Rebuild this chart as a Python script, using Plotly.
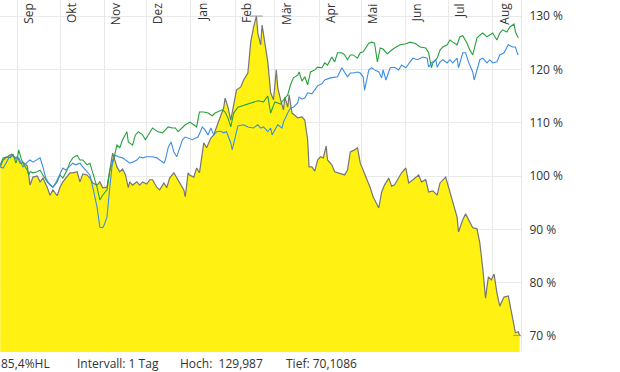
import pandas as pd
import plotly.graph_objects as go

start_date = "2018-08-20"

# ---- data (values in %, days since start_date) ----
yellow_days = [0, 2, 6, 8, 11, 12, 14, 16, 18, 19, 21, 23, 26, 28, 30, 33, 35, 37, 40, 42, 44, 47, 49, 51, 54, 56, 58, 61, 63, 65, 68, 70, 72, 75, 77, 79, 82, 84, 86, 88, 90, 91, 93, 96, 98, 100, 103, 105, 107, 110, 112, 115, 117, 119, 122, 124, 126, 129, 130, 132, 133, 136, 138, 140, 143, 145, 148, 150, 152, 155, 157, 158, 160, 162, 164, 166, 169, 171, 174, 176, 178, 180, 181, 183, 184, 186, 188, 190, 192, 194, 195, 197, 199, 200, 202, 203, 205, 207, 209, 212, 214, 216, 217, 219, 221, 223, 225, 227, 229, 230, 233, 235, 237, 240, 242, 244, 246, 249, 251, 253, 255, 258, 260, 262, 264, 266, 268, 270, 273, 275, 277, 280, 282, 285, 287, 290, 294, 296, 299, 301, 304, 307, 309, 313, 315, 318, 321, 322, 325, 327, 329, 332, 335, 337, 339, 341, 343, 345, 347, 349, 351, 354, 357, 359, 360, 362, 364, 365]
yellow_vals = [101.7, 103.0, 103.8, 104.1, 103.4, 103.6, 102.4, 102.6, 102.1, 101.9, 98.3, 99.8, 100.0, 98.9, 99.6, 97.9, 96.4, 97.4, 96.3, 97.9, 98.9, 99.8, 100.6, 100.6, 100.8, 98.9, 100.4, 100.2, 99.6, 98.7, 98.3, 98.9, 97.8, 97.9, 101.1, 104.3, 101.7, 100.8, 101.3, 100.2, 97.8, 98.9, 98.3, 98.9, 98.3, 98.9, 98.5, 99.3, 99.3, 97.9, 97.4, 98.7, 97.8, 99.6, 100.6, 99.6, 98.7, 97.4, 96.1, 100.6, 100.2, 99.8, 101.5, 100.6, 106.2, 105.3, 107.1, 107.7, 109.2, 111.4, 112.8, 114.6, 112.9, 110.5, 113.7, 116.1, 116.7, 118.0, 119.3, 125.1, 127.9, 129.987, 126.8, 124.6, 128.3, 124.9, 121.4, 115.6, 114.3, 119.9, 116.5, 114.3, 112.4, 114.8, 112.9, 115.2, 111.8, 111.4, 110.9, 111.1, 110.5, 106.8, 101.7, 101.7, 100.9, 103.0, 103.6, 103.4, 105.6, 103.0, 102.1, 100.8, 100.6, 100.4, 100.2, 101.1, 104.5, 104.9, 105.3, 102.4, 101.1, 99.3, 97.8, 96.1, 94.9, 94.0, 97.0, 98.3, 99.6, 98.1, 98.3, 99.8, 100.6, 101.5, 98.7, 99.3, 100.2, 98.9, 99.3, 97.0, 97.2, 96.4, 98.7, 99.8, 97.9, 95.5, 92.3, 89.5, 91.8, 92.9, 91.9, 90.3, 90.1, 87.4, 82.8, 77.1, 81.1, 80.5, 81.6, 78.1, 75.6, 77.3, 77.5, 74.5, 73.0, 70.6, 70.8, 70.1086]

green_days = [0, 2, 5, 7, 9, 11, 12, 13, 15, 16, 19, 20, 21, 23, 26, 28, 30, 33, 35, 37, 40, 42, 44, 47, 49, 51, 54, 56, 58, 61, 63, 65, 68, 70, 72, 75, 77, 79, 82, 84, 86, 89, 90, 93, 95, 97, 100, 102, 104, 107, 109, 111, 114, 116, 118, 121, 123, 125, 128, 130, 132, 133, 136, 138, 140, 143, 146, 149, 151, 153, 156, 158, 160, 162, 164, 167, 172, 177, 181, 185, 188, 190, 193, 197, 199, 202, 204, 206, 209, 210, 212, 214, 216, 218, 221, 223, 226, 228, 230, 233, 235, 237, 240, 242, 244, 246, 248, 251, 253, 255, 259, 261, 263, 265, 267, 269, 272, 274, 277, 281, 285, 288, 292, 295, 299, 301, 303, 304, 307, 309, 311, 314, 316, 318, 321, 323, 325, 328, 330, 332, 335, 337, 339, 342, 346, 349, 351, 353, 356, 358, 361, 362, 364]
green_vals = [102.1, 103.4, 103.6, 103.4, 104.1, 102.4, 103.2, 104.9, 103.0, 102.4, 101.1, 100.2, 100.8, 100.6, 100.8, 101.1, 100.2, 98.9, 98.3, 97.9, 98.9, 100.2, 99.6, 101.1, 102.6, 103.4, 103.9, 103.0, 103.0, 102.1, 102.4, 100.6, 97.9, 95.5, 96.4, 97.4, 101.1, 102.4, 105.8, 105.3, 106.8, 108.3, 106.4, 105.8, 107.7, 108.3, 107.7, 106.8, 107.7, 109.0, 108.6, 108.3, 108.1, 108.6, 109.2, 109.0, 109.0, 108.3, 109.2, 109.6, 109.9, 110.1, 109.6, 109.2, 112.0, 112.0, 111.8, 111.3, 111.8, 112.0, 112.4, 112.0, 110.9, 109.2, 111.8, 112.9, 113.3, 113.7, 114.1, 113.9, 115.0, 111.8, 113.9, 113.5, 114.3, 115.2, 117.1, 118.4, 118.9, 119.5, 117.8, 118.6, 117.1, 119.5, 119.9, 120.4, 120.3, 121.2, 120.8, 122.3, 121.4, 123.1, 123.1, 122.7, 121.8, 122.7, 122.7, 122.1, 123.1, 123.3, 124.9, 125.1, 124.9, 121.4, 124.0, 123.8, 122.9, 123.4, 124.0, 124.6, 124.8, 125.1, 124.8, 124.2, 124.0, 123.1, 120.3, 121.2, 122.1, 123.6, 124.2, 124.6, 125.5, 125.1, 124.6, 126.1, 126.3, 124.9, 123.6, 122.7, 125.9, 126.4, 126.8, 126.1, 126.8, 125.5, 126.8, 127.4, 127.0, 127.9, 128.5, 127.0, 125.9]

blue_days = [0, 2, 4, 6, 8, 9, 11, 13, 15, 16, 19, 21, 23, 26, 28, 30, 32, 34, 37, 39, 41, 44, 46, 48, 51, 53, 56, 58, 61, 63, 65, 68, 70, 72, 73, 75, 77, 79, 81, 83, 86, 88, 90, 91, 93, 96, 98, 100, 103, 105, 107, 110, 112, 115, 116, 118, 120, 122, 124, 125, 128, 130, 132, 135, 137, 139, 142, 144, 146, 148, 150, 152, 155, 157, 159, 162, 163, 165, 167, 171, 174, 178, 181, 183, 185, 188, 190, 191, 193, 195, 198, 199, 202, 204, 206, 209, 210, 212, 214, 216, 219, 221, 223, 226, 228, 232, 235, 237, 240, 241, 244, 246, 248, 251, 253, 255, 256, 259, 261, 263, 266, 268, 269, 271, 274, 277, 280, 282, 285, 288, 290, 293, 295, 297, 300, 301, 303, 306, 307, 309, 311, 314, 316, 318, 321, 322, 325, 327, 329, 332, 333, 335, 337, 339, 342, 344, 346, 349, 351, 354, 357, 360, 362, 363, 364]
blue_vals = [101.7, 101.5, 102.4, 103.4, 103.9, 103.6, 103.2, 103.4, 102.1, 101.7, 102.6, 103.0, 102.6, 103.0, 103.4, 101.7, 99.6, 98.7, 97.9, 98.7, 99.8, 101.5, 101.1, 101.7, 102.4, 102.1, 102.4, 101.7, 100.8, 100.2, 97.9, 94.2, 90.4, 90.3, 90.8, 92.3, 97.9, 103.0, 103.9, 103.6, 103.4, 103.0, 102.6, 102.4, 102.6, 103.0, 103.6, 103.4, 103.6, 103.6, 103.6, 103.4, 103.0, 102.4, 103.0, 105.3, 106.4, 104.5, 103.6, 104.5, 106.8, 107.3, 107.1, 106.8, 107.1, 107.3, 109.2, 108.6, 107.7, 109.0, 107.7, 108.3, 108.4, 108.1, 108.3, 106.2, 104.9, 107.3, 109.4, 109.6, 109.2, 109.0, 109.6, 109.0, 109.2, 108.3, 109.0, 107.7, 108.8, 109.6, 109.0, 110.1, 111.8, 112.8, 112.9, 113.7, 114.8, 114.4, 114.6, 115.6, 115.4, 116.1, 116.9, 117.3, 118.0, 118.4, 118.6, 118.6, 120.3, 119.9, 118.6, 119.3, 119.3, 119.5, 119.3, 118.6, 116.1, 119.9, 120.3, 119.9, 119.5, 118.4, 119.9, 118.0, 120.3, 120.4, 119.9, 120.8, 120.3, 121.4, 122.1, 121.8, 122.1, 122.3, 122.1, 120.4, 121.2, 121.8, 120.4, 121.4, 121.8, 121.2, 121.8, 121.2, 122.1, 120.3, 123.1, 123.1, 121.4, 119.5, 118.0, 119.9, 121.8, 122.1, 121.2, 121.8, 121.2, 121.4, 122.7, 123.1, 124.6, 124.2, 124.2, 123.3, 122.7]

assert len(yellow_days) == len(yellow_vals), (len(yellow_days), len(yellow_vals))
assert len(green_days) == len(green_vals), (len(green_days), len(green_vals))
assert len(blue_days) == len(blue_vals), (len(blue_days), len(blue_vals))

month_starts = ["2018-09-01", "2018-10-01", "2018-11-01", "2018-12-01", "2019-01-01", "2019-02-01",
                "2019-03-01", "2019-04-01", "2019-05-01", "2019-06-01", "2019-07-01", "2019-08-01"]
month_labels = ["Sep", "Okt", "Nov", "Dez", "Jan", "Feb", "Mär", "Apr", "Mai", "Jun", "Jul", "Aug"]
y_ticks = [70, 80, 90, 100, 110, 120, 130]
y_tick_labels = [f"{v} %" for v in y_ticks]
footer_texts = ["85,4%HL", "Intervall: 1 Tag", "Hoch:  129,987", "Tief: 70,1086"]

# ---- build ----
t0 = pd.Timestamp(start_date)
def to_dates(days):
    return [t0 + pd.Timedelta(days=d) for d in days]

yd, gd, bd = to_dates(yellow_days), to_dates(green_days), to_dates(blue_days)

FONT = "Open Sans"
fig = go.Figure()
fig.add_trace(go.Scatter(x=yd, y=yellow_vals, mode="lines", fill="tozeroy",
                         fillcolor="rgba(255,241,0,0.93)", line=dict(color="#767676", width=1.2),
                         hoverinfo="skip", showlegend=False))
fig.add_trace(go.Scatter(x=gd, y=green_vals, mode="lines",
                         line=dict(color="#27a03c", width=1.1), showlegend=False))
fig.add_trace(go.Scatter(x=bd, y=blue_vals, mode="lines",
                         line=dict(color="#3b8ee6", width=1.1), showlegend=False))

# high / low markers
hi_i = max(range(len(yellow_vals)), key=lambda i: yellow_vals[i])
lo_i = min(range(len(yellow_vals)), key=lambda i: yellow_vals[i])
for i in (hi_i, lo_i):
    c = yd[i]
    fig.add_trace(go.Scatter(x=[c - pd.Timedelta(days=4.5), c + pd.Timedelta(days=4.5)],
                             y=[yellow_vals[i], yellow_vals[i]], mode="lines",
                             line=dict(color="#999999", width=1), cliponaxis=False,
                             hoverinfo="skip", showlegend=False))

annotations = []
for d, lab in zip(month_starts, month_labels):
    annotations.append(dict(x=d, xref="x", y=1, yref="paper", text=lab, showarrow=False,
                            textangle=-90, xanchor="center", yanchor="top", xshift=11, yshift=-1,
                            font=dict(family=FONT, size=12, color="#333333")))
footer_x = [0, 76, 179, 285]
for px, txt in zip(footer_x, footer_texts):
    annotations.append(dict(x=0, xref="paper", y=0, yref="paper", text=txt, showarrow=False,
                            xanchor="left", yanchor="middle", xshift=px - 1, yshift=-11,
                            font=dict(family=FONT, size=12, color="#333333")))

fig.update_layout(
    width=620, height=372,
    margin=dict(l=0, r=99, t=0, b=20),
    paper_bgcolor="white", plot_bgcolor="white",
    font=dict(family=FONT, size=12, color="#333333"),
    annotations=annotations,
    xaxis=dict(type="date", range=["2018-08-19 20:00", "2019-08-20 22:00"],
               tickvals=month_starts, showticklabels=False, ticks="",
               showgrid=True, gridcolor="#e9e9e9", gridwidth=1, zeroline=False,
               showline=False),
    yaxis=dict(side="right", range=[67, 133], tickmode="array", tickvals=y_ticks,
               ticktext=y_tick_labels,
               showgrid=True, gridcolor="#e9e9e9", gridwidth=1, zeroline=False,
               showline=True, linecolor="#e6e6e6", linewidth=1, ticks="",
               ticklabelstandoff=5,
               tickfont=dict(family=FONT, size=12, color="#333333")),
    hovermode=False,
)

fig.write_html("out.html",
               config={"displayModeBar": False, "staticPlot": True},
               post_script="document.body.style.margin='0';document.body.style.overflow='hidden';")
